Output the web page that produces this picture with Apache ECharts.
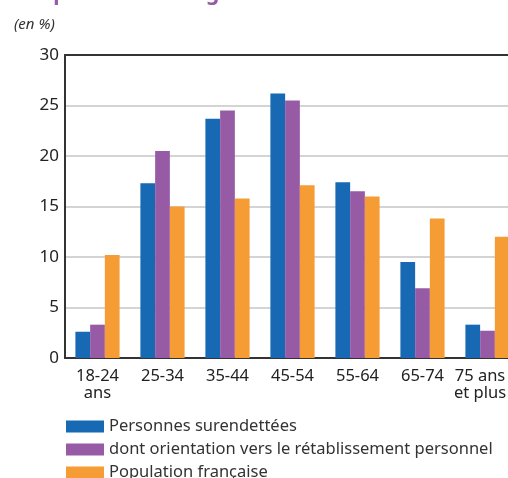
<!doctype html>
<html>
<head>
    <meta charset="utf-8">
    <title>Surendettement par âge</title>
    <style>
        html, body { margin: 0; padding: 0; background: #fff; }
        #chart { width: 508px; height: 478px; }
    </style>
</head>
<body>
    <div id="chart"></div>
    <script src="https://cdn.jsdelivr.net/npm/echarts@6/dist/echarts.min.js"></script>
    <script type="text/javascript">
        // tranches d'âge
        var ages = ['18-24\nans', '25-34', '35-44', '45-54', '55-64', '65-74', '75 ans\net plus'];
        var yTicks = [0, 5, 10, 15, 20, 25, 30];

        // en %
        var surendettees = [2.6, 17.3, 23.7, 26.2, 17.4, 9.5, 3.3];
        var retablissement = [3.3, 20.5, 24.5, 25.5, 16.5, 6.9, 2.7];
        var population = [10.2, 15.0, 15.8, 17.1, 16.0, 13.8, 12.0];

        var names = ['Personnes surendettées', 'dont orientation vers le rétablissement personnel', 'Population française'];
        var colors = ['#1769b3', '#975ba5', '#f59c34'];

        var myChart = echarts.init(document.getElementById('chart'));

        var fontName = 'Noto Sans';

        function bar(i, data) {
            return {
                name: names[i],
                type: 'bar',
                data: data,
                barGap: 0,
                barCategoryGap: '32%',
                itemStyle: { color: colors[i] }
            };
        }

        // le dernier libellé est décalé vers la gauche pour rester dans l'image
        var ageLabels = ages.map(function(a, i) {
            if (i == ages.length - 1) {
                return { value: a, textStyle: { padding: [0, 15, 0, 0] } };
            }
            return a;
        });

        var option = {
            animation: false,
            title: [{
                // titre coupé en haut de l'image
                text: 'Répartition des âges',
                left: 22,
                top: -21,
                textStyle: { color: '#975ba5', fontSize: 21, fontWeight: 'bold', fontFamily: fontName }
            }, {
                text: '(en %)',
                left: 9,
                top: 12,
                textStyle: { color: '#333', fontSize: 15, fontStyle: 'italic', fontWeight: 'normal', fontFamily: fontName }
            }],
            legend: {
                orient: 'vertical',
                left: 66,
                top: 418,
                height: 120,
                padding: 0,
                itemWidth: 38,
                itemHeight: 12,
                itemGap: 6,
                icon: 'rect',
                textStyle: { color: '#333', fontSize: 16.5, fontFamily: fontName },
                data: names
            },
            grid: {
                left: 65,
                top: 55,
                width: 455,
                bottom: 120,
                outerBoundsMode: 'none',
                containLabel: false
            },
            xAxis: [{
                type: 'category',
                data: ageLabels,
                axisLine: { lineStyle: { color: '#333', width: 2 } },
                axisTick: { show: false },
                axisLabel: { color: '#222', fontSize: 16.5, fontFamily: fontName, margin: 10, lineHeight: 17, interval: 0 }
            }, {
                type: 'category',
                data: ages,
                position: 'top',
                axisLine: { lineStyle: { color: '#333', width: 2 } },
                axisTick: { show: false },
                axisLabel: { show: false }
            }],
            yAxis: {
                type: 'value',
                min: yTicks[0],
                max: yTicks[yTicks.length - 1],
                interval: 5,
                axisLine: { show: true, lineStyle: { color: '#333', width: 2 } },
                axisTick: { show: false },
                axisLabel: { color: '#222', fontSize: 17, fontFamily: fontName, margin: 6 },
                splitLine: { lineStyle: { color: '#d4d4d4', width: 2 } }
            },
            series: [
                bar(0, surendettees),
                bar(1, retablissement),
                bar(2, population)
            ]
        };

        myChart.setOption(option);
    </script>
</body>
</html>
